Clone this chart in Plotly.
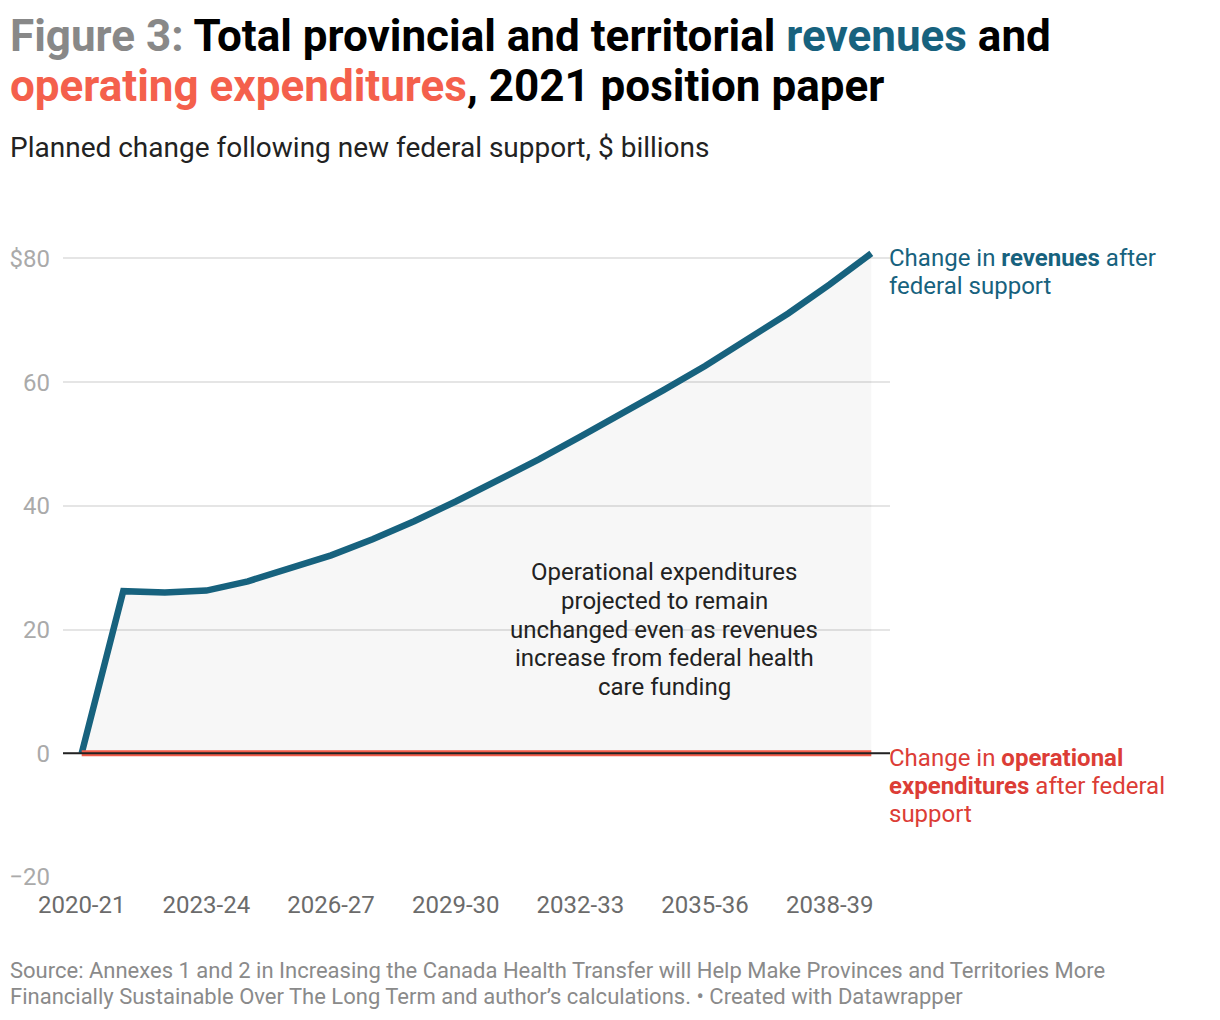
import plotly.graph_objects as go

years = ["2020-21", "2021-22", "2022-23", "2023-24", "2024-25", "2025-26", "2026-27",
         "2027-28", "2028-29", "2029-30", "2030-31", "2031-32", "2032-33", "2033-34",
         "2034-35", "2035-36", "2036-37", "2037-38", "2038-39", "2039-40"]
revenues = [0, 26.2, 26.0, 26.3, 27.8, 29.8, 32.0, 34.6, 37.5, 40.7,
            44.0, 47.5, 51.2, 54.9, 58.7, 62.6, 66.7, 71.1, 75.8, 80.8]
op_expenditures = [0] * 20
x_ticks = ["2020-21", "2023-24", "2026-27", "2029-30", "2032-33", "2035-36", "2038-39"]
y_ticks = [-20, 0, 20, 40, 60, 80]
y_ticktext = ["\u221220", "0", "20", "40", "60", "$80"]

TEAL = "#17627e"
RED_LINE = "#f25c4a"
RED_TEXT = "#dc3d36"
TITLE_RED = "#f4604c"
FONT = "Roboto"

# page body has an 8px margin; plot area in screen pixels: x 63..890, y 246..877
OFF = 8
PL, PR, PT, PB = 63, 890, 246, 877
W, H = 1220 - OFF, 1020 - OFF


def px(x):
    return (x - PL) / (PR - PL)


def py(y):
    return (PB - y) / (PB - PT)


fig = go.Figure()
fig.add_trace(go.Scatter(
    x=years, y=revenues, mode="lines",
    line=dict(color=TEAL, width=6.5),
    fill="tozeroy", fillcolor="rgba(0,0,0,0.03)",
    hoverinfo="skip", showlegend=False))
fig.add_trace(go.Scatter(
    x=years, y=op_expenditures, mode="lines",
    line=dict(color=RED_LINE, width=6),
    hoverinfo="skip", showlegend=False))

fig.add_shape(type="line", xref="paper", x0=0, x1=1, yref="y", y0=0, y1=0,
              line=dict(color="#222222", width=2), layer="above")

fig.update_layout(
    width=W, height=H,
    margin=dict(l=PL - OFF, r=W - (PR - OFF), t=PT - OFF, b=H - (PB - OFF)),
    paper_bgcolor="white", plot_bgcolor="white",
    font=dict(family=FONT, color="#222222"),
    xaxis=dict(type="category", range=[-0.45, 19.45],
               tickvals=x_ticks, ticktext=x_ticks,
               showgrid=False, showline=False, zeroline=False,
               tickfont=dict(size=24, color="#6b6b6b"), ticks="",
               ticklabelstandoff=11, fixedrange=True, automargin=False),
    yaxis=dict(range=[-20, 82], tickvals=y_ticks, ticktext=y_ticktext,
               showgrid=True, gridcolor="#e5e5e5", gridwidth=1.5,
               zeroline=False, showline=False, ticks="",
               tickfont=dict(size=24, color="#aaaaaa"),
               ticklabelstandoff=12, fixedrange=True, automargin=False),
)

annotations = []


def text_line(text, x, y, size, color, anchor="left", bold=False):
    annotations.append(dict(
        text=text, xref="paper", yref="paper", x=px(x), y=py(y),
        xanchor=anchor, yanchor="middle", showarrow=False,
        font=dict(family=FONT, size=size, color=color,
                  weight="bold" if bold else "normal")))


# title
text_line("<span style='color:#888888'>Figure 3:</span> Total provincial and territorial "
          f"<span style='color:{TEAL}'>revenues</span> and", 8, 36, 44, "#000000", bold=True)
text_line(f"<span style='color:{TITLE_RED}'>operating expenditures</span>, 2021 position paper",
          8, 86, 44, "#000000", bold=True)
# subtitle
text_line("Planned change following new federal support, $ billions", 8, 147, 28, "#222222")
# source
text_line("Source: Annexes 1 and 2 in Increasing the Canada Health Transfer will Help Make "
          "Provinces and Territories More", 8, 970, 22, "#8a8a8a")
text_line("Financially Sustainable Over The Long Term and author\u2019s calculations. "
          "\u2022 Created with Datawrapper", 8, 996, 22, "#8a8a8a")
# center note
note_lines = ["Operational expenditures", "projected to remain", "unchanged even as revenues",
              "increase from federal health", "care funding"]
for i, t in enumerate(note_lines):
    text_line(t, 664, 572 + i * 28.8, 24, "#222222", anchor="center")

# end labels attached to the last data points
rev_lines = ["Change in <b>revenues</b> after", "federal support"]
for i, t in enumerate(rev_lines):
    annotations.append(dict(
        text=t, xref="x", yref="y", x=years[-1], y=revenues[-1], xshift=16, yshift=-5 - 28 * i,
        xanchor="left", yanchor="middle", showarrow=False,
        font=dict(family=FONT, size=24, color=TEAL)))
op_lines = ["Change in <b>operational</b>", "<b>expenditures</b> after federal", "support"]
for i, t in enumerate(op_lines):
    annotations.append(dict(
        text=t, xref="x", yref="y", x=years[-1], y=op_expenditures[-1], xshift=16, yshift=-5 - 28 * i,
        xanchor="left", yanchor="middle", showarrow=False,
        font=dict(family=FONT, size=24, color=RED_TEXT)))

fig.update_layout(annotations=annotations)

fig.write_html("out.html")
